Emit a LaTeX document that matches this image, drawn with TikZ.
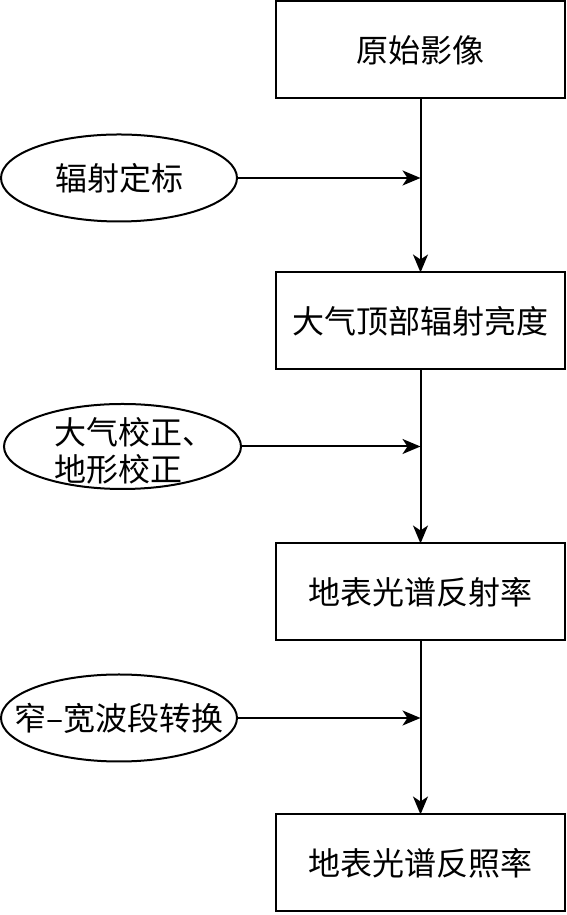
\documentclass[tikz,border=0pt]{standalone}
\usepackage{fontspec}
\setmainfont{Noto Sans CJK SC}
\usetikzlibrary{positioning,shapes.geometric,arrows.meta}

\begin{document}
\begin{tikzpicture}[
            x=1pt, y=1pt,
            node distance=174pt,
            line width=2pt,
            stepbox/.style={draw, rectangle, minimum width=289pt, minimum height=97pt,
                inner sep=0pt, outer sep=0pt, font=\fontsize{32}{37}\selectfont},
            opbox/.style={draw, ellipse, minimum width=236pt, minimum height=87pt, inner sep=0pt},
            optext/.style={font=\fontsize{32}{37}\selectfont, align=left},
            flow/.style={-{Stealth[length=18pt,width=15pt,inset=5pt]}}
        ]
        \useasboundingbox (0,0) rectangle (566,915);

        % main chain
        \node[stepbox] (raw) at (420.5,865) {原始影像};
        \node[stepbox, below=of raw] (toa) {大气顶部辐射亮度};
        \node[stepbox, below=of toa] (sr) {地表光谱反射率};
        \node[stepbox, below=of sr] (alb) {地表光谱反照率};

        \draw[flow] (raw) -- (toa);
        \draw[flow] (toa) -- (sr);
        \draw[flow] (sr) -- (alb);

        % processing steps
        \node[opbox, label={[optext, name=calt]center:辐射定标}] (cal) at (119,737) {};
        \node[opbox, minimum width=237pt, minimum height=85pt,
            label={[optext, name=corrt, xshift=12pt, yshift=-4pt]center:大气校正、\\地形校正}] (corr) at (122.5,468.5) {};
        \node[opbox, label={[optext, name=convt]center:窄–宽波段转换}] (conv) at (119,197) {};

        \draw[flow] (cal.east) -- (cal.east -| raw.south);
        \draw[flow] (corr.east) -- (corr.east -| toa.south);
        \draw[flow] (conv.east) -- (conv.east -| sr.south);
    \end{tikzpicture}
\end{document}
